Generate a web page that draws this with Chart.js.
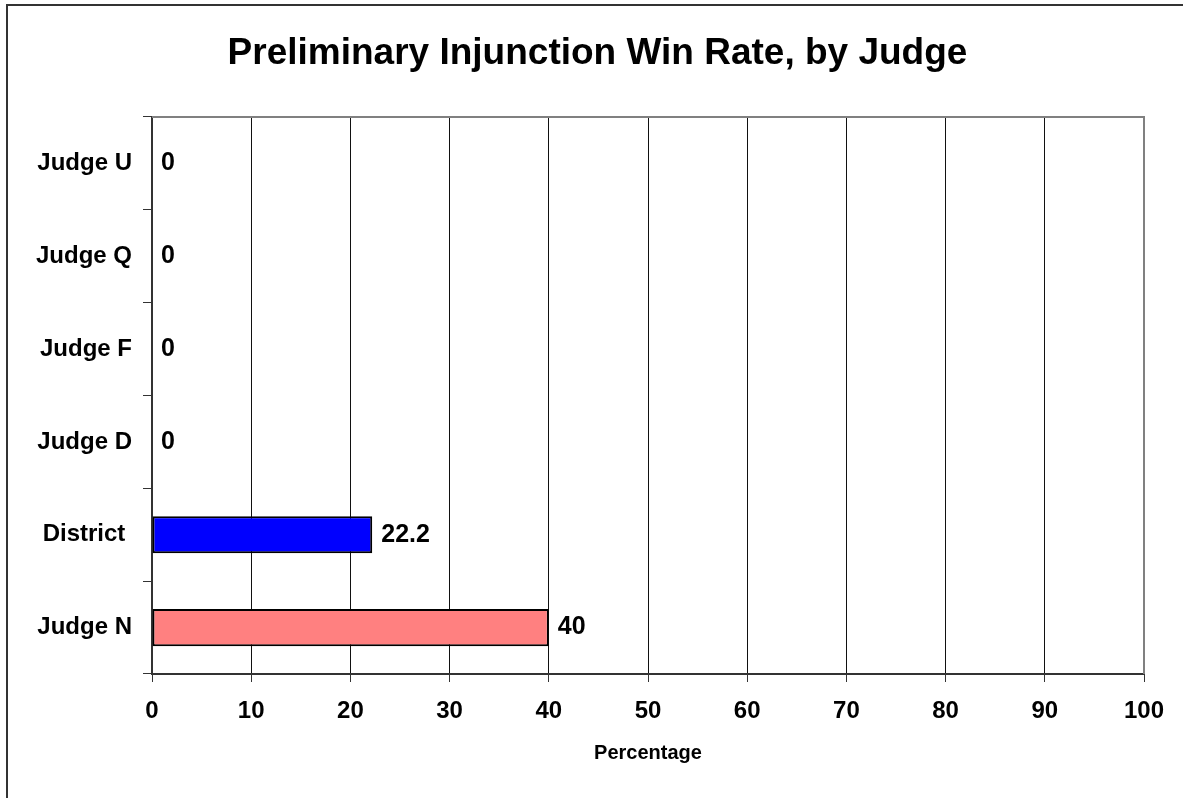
<!DOCTYPE html>
<html>
<head>
<meta charset="utf-8">
<script src="https://cdn.jsdelivr.net/npm/chart.js@4.4.0/dist/chart.umd.min.js"></script>
<style>
	body { margin: 0; background: #fff; }
	canvas { display: block; }
</style>
</head>
<body>
<canvas id="graficoJuizes" width="1183" height="798"></canvas>
<script>
var juizes = ['Judge U', 'Judge Q', 'Judge F', 'Judge D', 'District ', 'Judge N'];
var taxas = [0, 0, 0, 0, 22.2, 40];
var cores = ['#0000FF', '#0000FF', '#0000FF', '#0000FF', '#0000FF', '#FF8080'];
var escalaX = { min: 0, max: 100, passo: 10 };

var fonte = 'Liberation Sans, Arial, sans-serif';

// moldura da figura e borda cinza do topo
var moldura = {
	id: 'moldura',
	beforeDraw: function(chart) {
		var ctx = chart.ctx;
		ctx.save();
		ctx.strokeStyle = '#333';
		ctx.lineWidth = 2;
		ctx.beginPath();
		ctx.moveTo(7, 800);
		ctx.lineTo(7, 5);
		ctx.lineTo(1190, 5);
		ctx.stroke();
		ctx.restore();
	},
	afterDraw: function(chart) {
		var a = chart.chartArea;
		var ctx = chart.ctx;
		ctx.save();
		ctx.strokeStyle = '#808080';
		ctx.lineWidth = 2;
		ctx.beginPath();
		ctx.moveTo(a.left, a.top);
		ctx.lineTo(a.right, a.top);
		ctx.lineTo(a.right, a.bottom);
		ctx.stroke();
		ctx.restore();
	}
};

// rotulos com os valores ao lado das barras
var rotulos = {
	id: 'rotulos',
	afterDatasetsDraw: function(chart) {
		var ctx = chart.ctx;
		var meta = chart.getDatasetMeta(0);
		ctx.save();
		ctx.font = 'bold 25px ' + fonte;
		ctx.fillStyle = '#000';
		ctx.textAlign = 'left';
		ctx.textBaseline = 'middle';
		meta.data.forEach(function(barra, i) {
			ctx.fillText(String(taxas[i]), barra.x + 9, barra.y);
		});
		ctx.restore();
	}
};

var grafico = new Chart(document.getElementById('graficoJuizes').getContext('2d'), {
	type: 'bar',
	data: {
		labels: juizes,
		datasets: [{
			data: taxas,
			backgroundColor: cores,
			borderColor: '#000',
			borderWidth: 2,
			borderSkipped: false,
			categoryPercentage: 1,
			barPercentage: 0.4
		}]
	},
	options: {
		indexAxis: 'y',
		responsive: false,
		animation: false,
		layout: { padding: { left: 12, right: 0, top: 0, bottom: 0 } },
		plugins: {
			legend: { display: false },
			tooltip: { enabled: false },
			title: {
				display: true,
				text: 'Preliminary Injunction Win Rate, by Judge',
				color: '#000',
				font: { family: fonte, size: 37, weight: 'bold', lineHeight: 1.2 },
				padding: { top: 32, bottom: 40.6 }
			}
		},
		scales: {
			x: {
				min: escalaX.min,
				max: escalaX.max,
				afterFit: function(scale) { scale.height = 124; },
				ticks: {
					stepSize: escalaX.passo,
					color: '#000',
					padding: 15,
					font: { family: fonte, size: 24, weight: 'bold' }
				},
				grid: {
					color: function(c) { return c.tick && c.tick.value === 100 ? '#808080' : '#111'; },
					lineWidth: 1,
					tickLength: 8,
					tickColor: '#333'
				},
				border: { color: '#333', width: 2 },
				title: {
					display: true,
					text: 'Percentage',
					color: '#000',
					font: { family: fonte, size: 20, weight: 'bold' },
					padding: { top: 0, bottom: 33 }
				}
			},
			y: {
				afterFit: function(scale) { scale.width = 140; },
				ticks: {
					color: '#000',
					padding: 11,
					font: { family: fonte, size: 24, weight: 'bold' }
				},
				grid: {
					drawOnChartArea: false,
					tickLength: 9,
					tickColor: '#333',
					lineWidth: 1
				},
				border: { color: '#333', width: 2 }
			},
			margem: {
				type: 'linear',
				axis: 'y',
				position: 'right',
				afterFit: function(scale) { scale.width = 39; },
				ticks: { display: false },
				grid: { display: false },
				border: { display: false }
			}
		}
	},
	plugins: [moldura, rotulos]
});
</script>
</body>
</html>
